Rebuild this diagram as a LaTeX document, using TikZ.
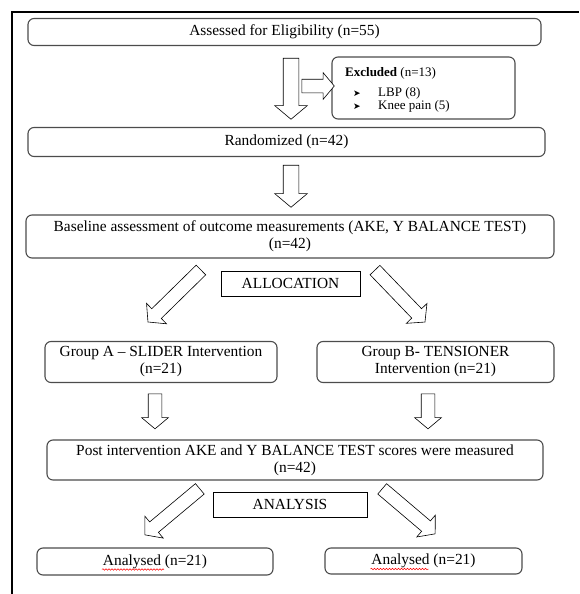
\documentclass[tikz,border=0pt]{standalone}
\usepackage{fontspec}
\setmainfont{Liberation Serif}
\newfontfamily\bulletfont{DejaVu Sans}
\usetikzlibrary{shapes.arrows,calc,decorations.pathmorphing}

\begin{document}
\begin{tikzpicture}[
    x=1pt, y=-1pt,
    font=\fontsize{15.4}{17}\selectfont,
    flowbox/.style={draw=black!70, rounded corners=6pt, line width=1.1pt, fill=white, align=center, inner sep=2pt},
    tagbox/.style={draw=black, line width=1pt, fill=white, inner sep=2pt},
    bigarrow/.style={draw=black, line width=0.6pt, fill=white, single arrow, inner xsep=0pt, inner ysep=7.5pt, single arrow head extend=8.5pt, minimum width=32pt, single arrow tip angle=100},
    midarrow/.style={bigarrow, inner ysep=6.5pt, single arrow head extend=7.5pt, minimum width=28pt},
    smallarrow/.style={bigarrow, inner ysep=6.5pt, single arrow head extend=6.5pt, minimum width=26pt},
    smalltext/.style={font=\fontsize{13}{14}\selectfont, anchor=base west, inner sep=0pt},
    spellmark/.style={draw=red, line width=0.5pt, decorate, decoration={snake, amplitude=0.8pt, segment length=3pt}}
]
  \useasboundingbox (0,0) rectangle (579,594);

  % page frame
  \draw[line width=1.5pt] (12,594) -- (12,12) -- (579,12);

  % -------------------------------------------------------------
  % ENROLMENT
  % -------------------------------------------------------------
  \node[flowbox, minimum width=513pt, minimum height=27pt] (elig) at (284.5,32) {Assessed for Eligibility (n=55)};

  \node[flowbox, minimum width=183pt, minimum height=62pt] (excl) at (423.5,88) {};
  \node[smalltext] (exclhead) at (345,77) {\textbf{Excluded} (n=13)};
  \node[smalltext] (exclone) at (353,96) {\makebox[25pt][l]{\bulletfont\fontsize{9}{9}\selectfont ➤}LBP (8)};
  \node[smalltext] (excltwo) at (353,109) {\makebox[25pt][l]{\bulletfont\fontsize{9}{9}\selectfont ➤}Knee pain (5)};

  \node[flowbox, minimum width=517pt, minimum height=29pt] (rand) at (286.5,142) {Randomized (n=42)};

  \node[flowbox, minimum width=528pt, minimum height=43pt] (base) at (290,236.5) {Baseline assessment of outcome measurements (AKE, Y BALANCE TEST)\\(n=42)};

  % -------------------------------------------------------------
  % ALLOCATION
  % -------------------------------------------------------------
  \node[tagbox, minimum width=139pt, minimum height=25pt] (alloc) at (290.5,283.5) {ALLOCATION};

  \node[flowbox, minimum width=232pt, minimum height=41pt] (grpA) at (161,362) {Group A -- SLIDER Intervention\\(n=21)};
  \node[flowbox, minimum width=237pt, minimum height=41pt] (grpB) at (435.5,362) {Group B- TENSIONER\\Intervention (n=21)};

  \node[flowbox, minimum width=496pt, minimum height=40pt] (post) at (295,460) {Post intervention AKE and Y BALANCE TEST scores were measured\\(n=42)};

  % -------------------------------------------------------------
  % ANALYSIS
  % -------------------------------------------------------------
  \node[tagbox, minimum width=154pt, minimum height=25pt] (anl) at (290,504.5) {ANALYSIS};

  \node[flowbox, minimum width=236pt, minimum height=27pt] (anA) at (155,561.5) {Analysed (n=21)};
  \node[flowbox, minimum width=197pt, minimum height=26pt] (anB) at (423.5,561) {Analysed (n=21)};
  \draw[spellmark] ($(anA.center)+(-53,8)$) -- ($(anA.center)+(9,8)$);
  \draw[spellmark] ($(anB.center)+(-53,8)$) -- ($(anB.center)+(5,8)$);

  % -------------------------------------------------------------
  % BLOCK ARROWS
  % -------------------------------------------------------------
  \coordinate (aes) at (291,55);   \coordinate (aet) at (291,116);
  \coordinate (axs) at (299,86);   \coordinate (axt) at (excl.west |- 0,86);
  \coordinate (ars) at (291,162);  \coordinate (art) at (291,204);
  \coordinate (als) at (203,268);  \coordinate (alt) at (150,320);
  \coordinate (abs) at (373,268);  \coordinate (abt) at (423,320);
  \coordinate (ags) at (155,391);  \coordinate (agt) at (155,426);
  \coordinate (ahs) at (428,391);  \coordinate (aht) at (428,426);
  \coordinate (aps) at (202,487);  \coordinate (apt) at (147,533);
  \coordinate (aqs) at (380,487);  \coordinate (aqt) at (433,532);

  \foreach \s/\t/\k in {aes/aet/bigarrow, axs/axt/smallarrow, ars/art/bigarrow,
                        als/alt/midarrow, abs/abt/midarrow, ags/agt/smallarrow,
                        ahs/aht/smallarrow, aps/apt/midarrow, aqs/aqt/midarrow}
    \path let \p1=($(\t)-(\s)$), \n1={veclen(\x1,\y1)}, \n2={atan2(\y1,\x1)} in
      node[\k, minimum height=\n1, rotate=\n2] (arr\s) at ($(\s)!0.5!(\t)$) {};

\end{tikzpicture}
\end{document}
